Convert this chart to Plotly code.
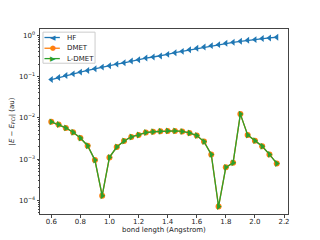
import plotly.graph_objects as go

bond_length = [0.6, 0.65, 0.7, 0.75, 0.8, 0.85, 0.9, 0.95, 1.0, 1.05, 1.1, 1.15, 1.2, 1.25,
               1.3, 1.35, 1.4, 1.45, 1.5, 1.55, 1.6, 1.65, 1.7, 1.75, 1.8, 1.85, 1.9, 1.95,
               2.0, 2.05, 2.1, 2.15]

hf_err = [0.0845, 0.0946, 0.106, 0.116, 0.128, 0.140, 0.154, 0.169, 0.182, 0.200, 0.215,
          0.237, 0.255, 0.280, 0.297, 0.315, 0.344, 0.378, 0.407, 0.447, 0.482, 0.519,
          0.560, 0.592, 0.638, 0.675, 0.714, 0.755, 0.783, 0.830, 0.861, 0.893]

dmet_err = [0.00798, 0.00687, 0.0057, 0.00448, 0.00325, 0.00211, 0.000946, 0.00013,
            0.0011, 0.00196, 0.00275, 0.00344, 0.00385, 0.00439, 0.00460, 0.00473,
            0.00482, 0.00482, 0.00467, 0.0043, 0.00371, 0.00265, 0.0013, 0.000071,
            0.00063, 0.00081, 0.0123, 0.00385, 0.0028, 0.00204, 0.0013, 0.000785]

ldmet_err = list(dmet_err)

series_names = ["HF", "DMET", "L-DMET"]
series_colors = ["#1f77b4", "#ff7f0e", "#2ca02c"]
series_symbols = ["triangle-left", "circle", "triangle-right"]
legend_glyphs = ["◀", "●", "▶"]

x_ticks = [0.6, 0.8, 1.0, 1.2, 1.4, 1.6, 1.8, 2.0, 2.2]
x_ticklabels = ["0.6", "0.8", "1.0", "1.2", "1.4", "1.6", "1.8", "2.0", "2.2"]
y_ticks = [1e-4, 1e-3, 1e-2, 1e-1, 1e0]
y_ticklabels = ["10<sup>−4</sup>", "10<sup>−3</sup>", "10<sup>−2</sup>", "10<sup>−1</sup>", "10<sup>0</sup>"]
y_minor = [m * 10.0 ** e for e in range(-5, 1) for m in range(2, 10)]

fig = go.Figure()
for name, ys, color, sym in zip(series_names, [hf_err, dmet_err, ldmet_err],
                                series_colors, series_symbols):
    fig.add_trace(go.Scatter(x=bond_length, y=ys, name=name, mode="lines+markers",
                             showlegend=False,
                             line=dict(color=color, width=1.3),
                             marker=dict(symbol=sym, size=6, color=color)))

# compact matplotlib-style legend (upper left)
legend_rows = [0.954, 0.896, 0.840]
shapes = [dict(type="rect", xref="paper", yref="paper", x0=0.012, x1=0.222, y0=0.815, y1=0.983,
               line=dict(color="#cccccc", width=1), fillcolor="rgba(255,255,255,0.8)", layer="above")]
annotations = []
for name, color, glyph, yr in zip(series_names, series_colors, legend_glyphs, legend_rows):
    shapes.append(dict(type="line", xref="paper", yref="paper", x0=0.018, x1=0.080, y0=yr, y1=yr,
                       line=dict(color=color, width=1.3), layer="above"))
    annotations.append(dict(xref="paper", yref="paper", x=0.0505, y=yr, text=glyph, showarrow=False,
                            font=dict(size=7, color=color), xanchor="center", yanchor="middle"))
    annotations.append(dict(xref="paper", yref="paper", x=0.100, y=yr, text=name, showarrow=False,
                            font=dict(size=7, color="#222"), xanchor="left", yanchor="middle"))

# x-axis title placed like matplotlib's
annotations.append(dict(xref="paper", yref="paper", x=0.5, y=-0.089, text="bond length (Angstrom)",
                        showarrow=False, font=dict(size=7, color="#222"),
                        xanchor="center", yanchor="middle"))

axis_common = dict(showline=True, linecolor="#444", linewidth=1, mirror=True,
                   ticks="outside", ticklen=2.5, tickwidth=0.8, tickcolor="#444",
                   showgrid=False, zeroline=False, tickfont=dict(size=7, color="#222"))

fig.update_xaxes(range=[0.5225, 2.2275], tickmode="array", tickvals=x_ticks,
                 ticktext=x_ticklabels, ticklabelstandoff=-2, **axis_common)
fig.update_yaxes(type="log", range=[-4.33, 0.151], tickmode="array", tickvals=y_ticks,
                 ticktext=y_ticklabels,
                 minor=dict(tickmode="array", tickvals=y_minor, ticks="outside", ticklen=1.5,
                            tickcolor="#444", tickwidth=0.6),
                 title=dict(text="<i>|E − E</i><sub><i>FCI</i></sub><i>|</i> (au)",
                            font=dict(size=7, color="#222"), standoff=3),
                 **axis_common)

fig.update_layout(width=320, height=240,
                  margin=dict(l=40, r=32, t=29, b=26, pad=0),
                  paper_bgcolor="white", plot_bgcolor="white",
                  font=dict(family="DejaVu Sans", size=7, color="#222"),
                  showlegend=False, shapes=shapes, annotations=annotations)

fig.write_html("out.html", config={"displayModeBar": False},
               post_script="document.body.style.margin='0';")
